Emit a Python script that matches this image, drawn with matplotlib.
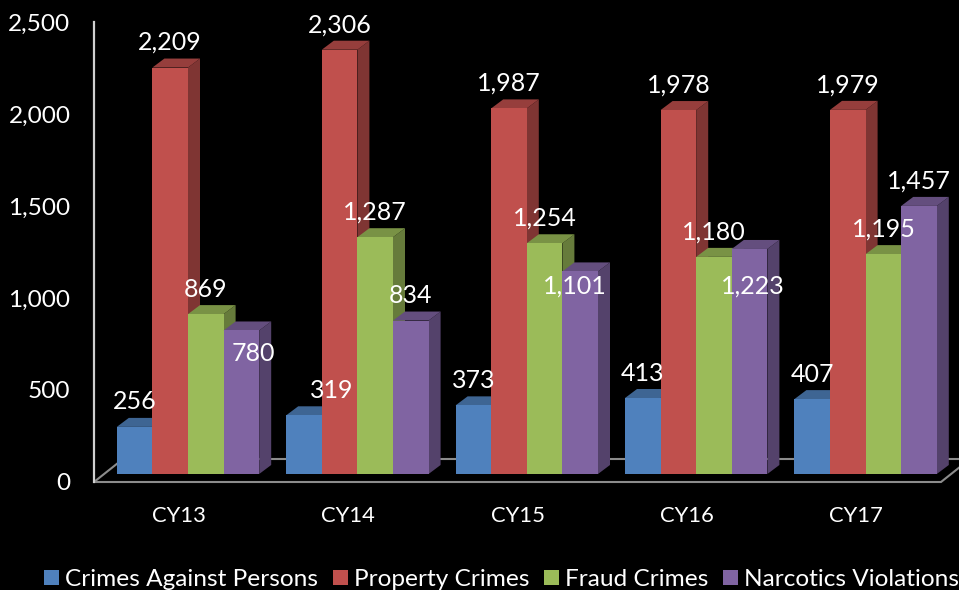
import matplotlib
matplotlib.use('Agg')
import matplotlib.pyplot as plt
import numpy as np
from matplotlib.patches import Patch, Polygon
from matplotlib.ticker import FuncFormatter
from matplotlib.colors import to_rgb

years = ['CY13', 'CY14', 'CY15', 'CY16', 'CY17']
persons = [256, 319, 373, 413, 407]
property_crimes = [2209, 2306, 1987, 1978, 1979]
fraud = [869, 1287, 1254, 1180, 1195]
narcotics = [780, 834, 1101, 1223, 1457]

series_names = ['Crimes Against Persons', 'Property Crimes', 'Fraud Crimes', 'Narcotics Violations']
series_values = [persons, property_crimes, fraud, narcotics]
colors = ['#4F81BD', '#C0504D', '#9BBB59', '#8064A2']

# label nudges in pixels, (dx, dy) from the default spot above the bar
# key is (group, series)
label_nudge = {
    (0, 3): (12, -48),
    (1, 0): (28, 0),
    (2, 3): (-5, -40),
    (3, 3): (3, -62),
}

FONT = 'Lato'
W, H = 959, 590
LEFT, RIGHT, TOP, BOTTOM = 94, 941, 22, 482
PX_X = 5 / (RIGHT - LEFT)
PX_Y = 2500 / (BOTTOM - TOP)
BAR_W = 35.6 * PX_X
DEPTH_X = 12 * PX_X
DEPTH_Y = 9 * PX_Y
BASE = 8 * PX_Y
SHIFT = 9.3 * PX_X
FLOOR_X = 29 * PX_X
FLOOR_Y = 23 * PX_Y


def shade(color, k):
    return tuple(c * k for c in to_rgb(color))


def draw_bar(ax, x, val, color):
    top = BASE + val
    # side and top faces, then the front one
    ax.add_patch(Polygon([(x + BAR_W, BASE), (x + BAR_W + DEPTH_X, BASE + DEPTH_Y),
                          (x + BAR_W + DEPTH_X, top + DEPTH_Y), (x + BAR_W, top)],
                         color=shade(color, 0.66), lw=0, zorder=3, clip_on=False))
    ax.add_patch(Polygon([(x, top), (x + DEPTH_X, top + DEPTH_Y),
                          (x + BAR_W + DEPTH_X, top + DEPTH_Y), (x + BAR_W, top)],
                         color=shade(color, 0.78), lw=0, zorder=3, clip_on=False))
    ax.bar(x, val, BAR_W, bottom=BASE, align='edge', color=color, lw=0, zorder=3, clip_on=False)


def main():
    fig = plt.figure(figsize=(W / 100, H / 100), dpi=100, facecolor='black')
    ax = fig.add_axes([LEFT / W, 1 - BOTTOM / H, (RIGHT - LEFT) / W, (BOTTOM - TOP) / H], facecolor='black')
    ax.set_xlim(0, 5)
    ax.set_ylim(0, 2500)

    for s in ['top', 'right', 'bottom']:
        ax.spines[s].set_visible(False)
    ax.spines['left'].set_color('#D0D0D0')
    ax.spines['left'].set_linewidth(1.6)

    # floor outline
    floor = Polygon([(0, 0), (5, 0), (5 + FLOOR_X, FLOOR_Y), (FLOOR_X, FLOOR_Y)], closed=True,
                    fill=False, edgecolor='#8C8C8C', lw=1.5, zorder=1, clip_on=False)
    ax.add_patch(floor)

    ax.set_xticks(np.arange(5) + 0.5, years)
    ax.set_yticks(np.arange(0, 2501, 500))
    ax.yaxis.set_major_formatter(FuncFormatter(lambda v, p: f'{int(v):,}'))
    ax.tick_params(axis='x', length=0, pad=17, colors='white', labelsize=15.8)
    ax.tick_params(axis='y', length=0, pad=17, colors='white', labelsize=17.6)
    for t in ax.get_xticklabels() + ax.get_yticklabels():
        t.set_fontfamily(FONT)

    for i in range(5):
        for j, vals in enumerate(series_values):
            x = i + SHIFT + (j - 2) * BAR_W + 0.5
            draw_bar(ax, x, vals[i], colors[j])

    # labels last so they sit over the bars
    for i in range(5):
        for j, vals in enumerate(series_values):
            x = i + SHIFT + (j - 2) * BAR_W + 0.5 + BAR_W / 2
            dx, dy = label_nudge.get((i, j), (0, 0))
            ax.annotate(f'{vals[i]:,}', (x, BASE + vals[i]), xytext=(dx, 25 + dy),
                        textcoords='offset pixels', ha='center', va='center',
                        color='white', fontsize=18, family=FONT, zorder=5, annotation_clip=False)

    handles = [Patch(facecolor=c, lw=0) for c in colors]
    fig.legend(handles, series_names, loc='lower left', bbox_to_anchor=(44 / W, 0), ncol=4,
               frameon=False, labelcolor='white', prop={'family': FONT, 'size': 17.6},
               handlelength=0.61, handleheight=0.61, handletextpad=0.25, columnspacing=0.6,
               borderpad=0, borderaxespad=0)

    fig.savefig('out.png', dpi=100, facecolor='black')


if __name__ == '__main__':
    main()
